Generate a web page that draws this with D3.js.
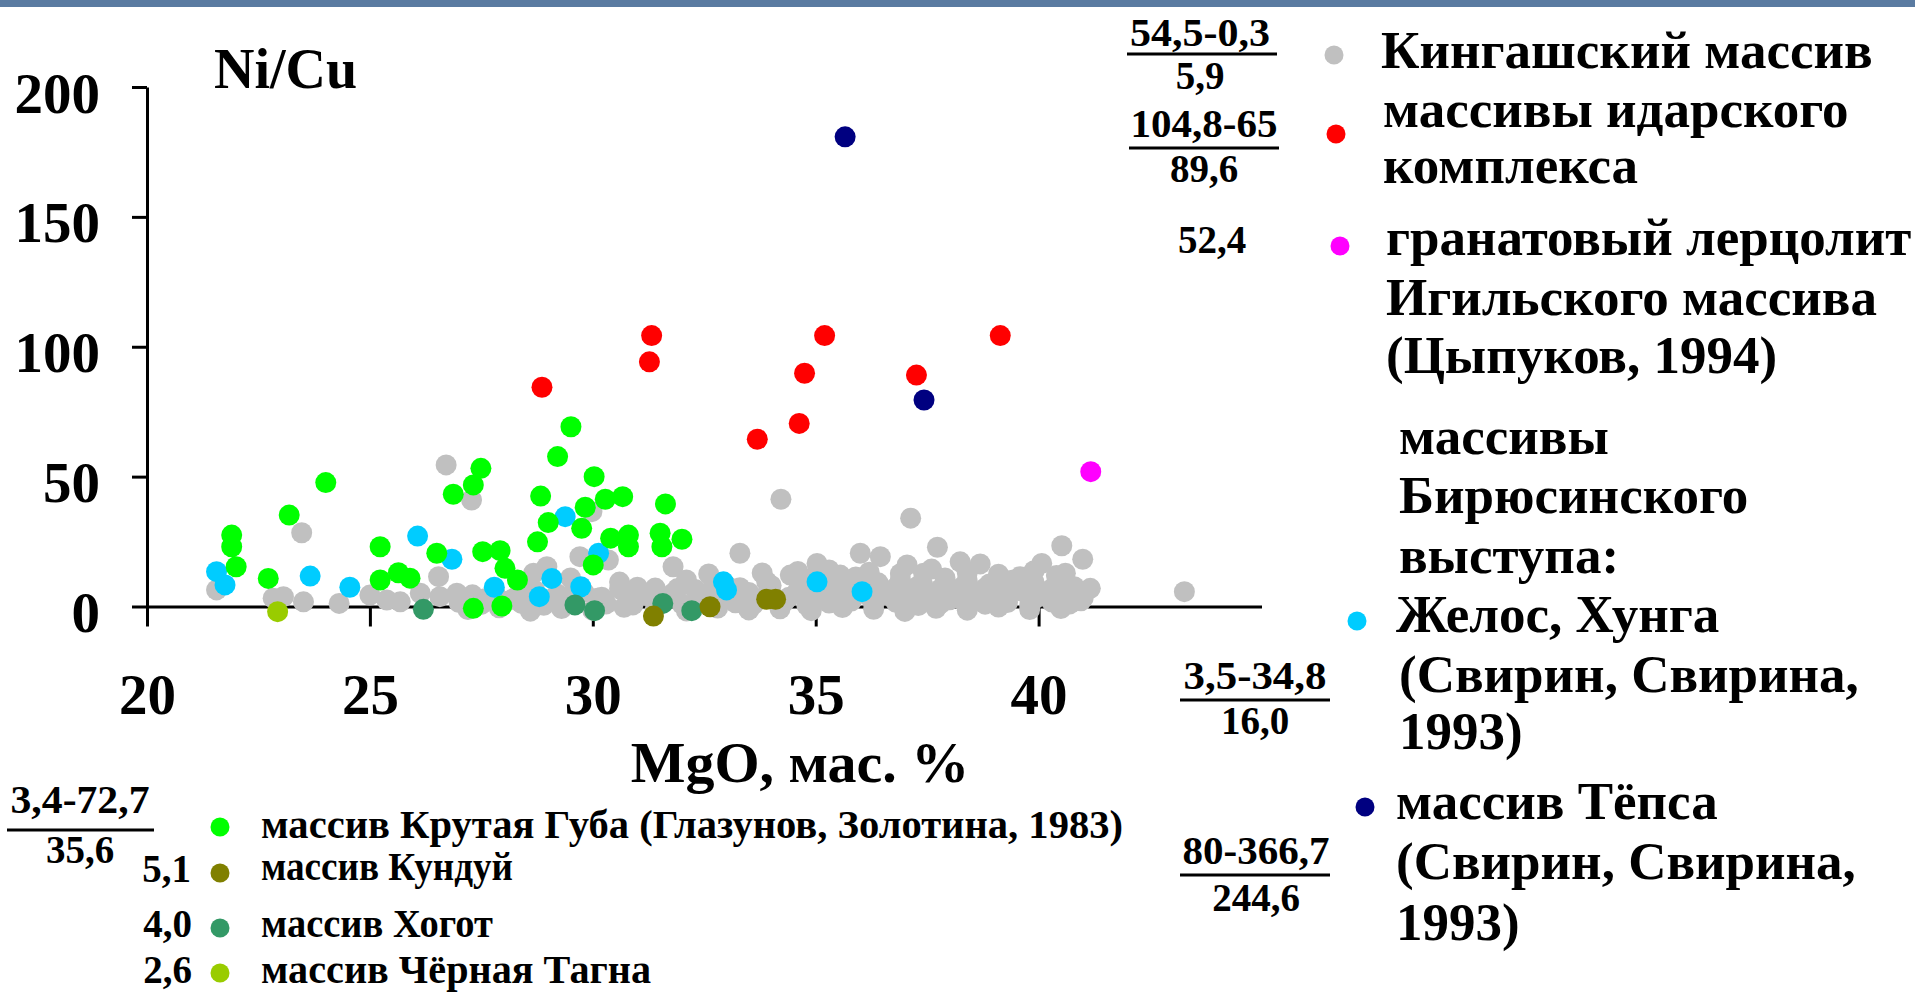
<!DOCTYPE html>
<html><head><meta charset="utf-8">
<script src="https://cdn.jsdelivr.net/npm/d3@7"></script>
<style>
html,body{margin:0;padding:0;background:#fff;overflow:hidden}
svg{display:block}
text{font-family:"Liberation Serif","Times New Roman",serif;font-weight:bold;fill:#000}
</style></head>
<body>
<svg id="chart" width="1915" height="993"></svg>
<script>
// ---- data ----
const xTicks = [20, 25, 30, 35, 40];
const yTicks = [0, 50, 100, 150, 200];
const xDomain = [20, 45];
const yDomain = [0, 200];

// Кингашский массив (gray)
const kingash = [
  [21.56,6.4],[23.47,28.4],[26.71,54.5],[27.28,41.0],[29.98,36.5],[29.71,19.2],[30.35,17.9],[33.3,20.5],
  [34.22,41.3],[37.13,34.0],[37.73,22.8],[38.24,17.2],[38.69,16.4],[36.0,20.5],[36.45,19.2],[35.03,16.6],
  [34.43,12.1],[35.55,12.1],[37.05,16.0],[37.42,12.8],[39.59,11.5],[40.07,16.6],[40.52,23.4],[40.99,18.2],
  [41.16,7.0],[43.27,5.7],[26.54,11.5],[22.83,3.2],[23.06,3.8],[23.51,1.8],[24.31,1.2],[25.0,4.4],
  [25.38,2.5],[25.68,1.8],[26.13,5.1],[26.57,3.8],[26.95,5.1],[28.67,12.8],[28.97,15.3],[31.8,15.3],
  [29.5,11.0],[32.6,12.5],
  [27.0,1.5],[27.5,0.8],[28.0,2.0],[28.4,1.2],[28.9,0.5],[29.4,2.2],[30.3,1.0],[30.9,0.6],[31.5,1.8],
  [32.0,0.9],[32.6,2.5],[33.2,1.4],[33.6,0.7],[34.3,1.9],[34.8,0.5],[35.3,1.3],[35.8,2.1],[36.3,0.8],
  [36.8,1.6],[37.3,0.4],[37.8,1.1],[38.3,2.3],[38.8,0.9],[39.3,1.5],[39.8,0.6],[40.3,1.7],[40.7,1.0],
  [27.3,4.5],[27.8,5.8],[28.3,3.9],[28.7,6.2],[29.2,4.8],[29.8,5.5],[30.2,3.6],[30.6,6.8],[31.2,4.2],
  [31.8,5.1],[32.3,6.5],[32.9,3.8],[33.5,5.4],[34.0,4.6],[34.6,6.1],[35.1,5.0],[35.6,3.7],[36.1,6.6],
  [36.6,4.4],[37.1,5.7],[37.6,4.9],[38.1,6.3],[38.6,3.5],[39.1,5.2],[39.6,6.0],[40.1,4.1],[40.6,5.5],
  [41.0,3.3],
  [28.5,8.2],[29.6,7.5],[30.6,9.4],[31.4,7.1],[32.1,10.2],[33.0,8.0],[33.9,9.6],[34.9,10.8],[35.4,8.5],
  [35.9,11.4],[36.4,9.1],[36.9,10.5],[37.4,8.3],[37.9,11.0],[38.4,9.8],[38.9,8.7],[39.4,10.1],[39.9,9.3],
  [40.4,11.9],[40.8,7.6],
  [27.2,-1.2],[27.9,-0.5],[28.6,-1.8],[29.3,-0.8],[30.0,-1.5],[30.7,-0.3],[31.4,-1.0],[32.1,-1.7],
  [32.8,-0.6],[33.5,-1.3],[34.2,-0.9],[34.9,-1.6],[35.6,-0.4],[36.3,-1.1],[37.0,-1.9],[37.7,-0.7],
  [38.4,-1.4],[39.1,-0.2],[39.8,-1.2],[40.5,-0.8],
  [27.6,3.1],[28.2,2.8],[28.8,3.5],[29.5,2.6],[30.1,3.2],[30.8,2.9],[31.6,3.4],[32.4,3.0],[33.1,2.7],
  [33.8,3.3],[34.4,3.6],[35.0,2.5],[35.7,3.1],[36.2,3.8],[36.9,2.9],[37.5,3.3],[38.0,2.6],[38.7,3.5],
  [39.3,3.0],[39.9,2.8],[40.5,3.4],[40.95,2.2],
  [31.0,7.4],[31.9,6.9],[32.7,7.8],[33.3,7.2],[34.0,8.1],[34.7,7.5],[35.2,7.0],[35.7,8.4],[36.2,7.6],
  [36.8,7.3],[37.3,7.9],[37.8,6.8],[38.3,7.7],[38.8,7.1],[39.3,8.2],[39.8,7.4],[40.3,6.9],[40.7,8.0],
  [33.8,12.9],[34.6,13.5],[35.3,14.1],[36.2,13.2],[36.9,12.6],[37.6,14.4],[38.4,13.0],[39.1,12.4],
  [39.9,13.8],[40.6,12.8]
];
// массивы идарского комплекса (red)
const idar = [[28.86,84.4],[31.32,104.3],[31.27,94.2],[33.69,64.4],[34.63,70.5],[34.75,89.8],[35.2,104.3],[37.26,89.1],[39.14,104.3]];
// гранатовый лерцолит Игильского массива (magenta)
const igil = [[41.17,51.9]];
// Желос, Хунга (cyan)
const zhelos = [[21.56,13.4],[21.75,8.3],[23.66,11.7],[24.55,7.4],[26.07,27.1],[26.84,18.2],[29.38,34.6],[30.13,20.5],
  [29.08,10.8],[27.79,7.4],[28.8,3.8],[29.73,7.6],[32.93,9.5],[33.0,6.4],[35.03,9.5],[36.04,5.7]];
// массив Тёпса (navy)
const tepsa = [[35.66,180.8],[37.43,79.5]];
// массив Крутая Губа (green)
const krutaya = [[24.01,47.7],[23.19,35.2],[21.9,27.5],[21.9,23.0],[22.0,15.3],[22.72,10.8],[25.23,23.0],[26.5,20.5],
  [25.23,10.2],[25.64,13.0],[25.9,10.9],[26.87,43.2],[29.51,69.2],[29.21,57.7],[30.03,50.0],[27.49,53.2],
  [27.32,46.8],[28.83,42.5],[29.83,38.2],[30.28,41.3],[30.67,42.3],[31.63,39.5],[29.0,32.3],[28.76,24.9],
  [29.75,30.1],[30.4,26.3],[30.8,27.5],[30.8,23.0],[31.51,28.2],[31.55,23.0],[32.0,25.9],[30.01,16.0],
  [27.53,21.1],[27.92,21.5],[28.03,14.7],[28.31,10.2],[27.32,-0.7],[27.96,0.2]];
// массив Кундуй (olive)
const kunduy = [[31.36,-3.7],[32.63,-0.1],[33.9,2.8],[34.1,2.8]];
// массив Хогот (sea green)
const khogot = [[26.2,-1.1],[29.6,0.6],[30.04,-1.6],[31.57,1.2],[32.22,-1.6]];
// массив Чёрная Тагна (yellow green)
const tagna = [[22.93,-2.0]];

// ---- drawing ----
const svg = d3.select("#chart");
svg.append("rect").attr("x",0).attr("y",0).attr("width",1915).attr("height",7).attr("fill","#5a7ba1");

const x = d3.scaleLinear().domain(xDomain).range([147, 1261.5]);
const y = d3.scaleLinear().domain(yDomain).range([606.5, 87]);

const series = [
  {data: kingash, color:"#c0c0c0"},
  {data: zhelos, color:"#00ccff"},
  {data: krutaya, color:"#00ff00"},
  {data: khogot, color:"#339966"},
  {data: kunduy, color:"#808000"},
  {data: tagna, color:"#99cc00"},
  {data: idar, color:"#ff0000"},
  {data: tepsa, color:"#000080"},
  {data: igil, color:"#ff00ff"}
];

// axes
const gy = svg.append("g").attr("transform","translate(147,0)")
  .call(d3.axisLeft(y).tickValues(yTicks).tickSize(15).tickSizeOuter(0).tickPadding(32));
const gx = svg.append("g").attr("transform","translate(0,606.5)")
  .call(d3.axisBottom(x).tickValues(xTicks).tickSize(20).tickSizeOuter(0));
[gx, gy].forEach(g => {
  g.select(".domain").attr("stroke","#000").attr("stroke-width",3);
  g.selectAll(".tick line").attr("stroke","#000").attr("stroke-width",3);
  g.selectAll("text").attr("font-size",57).attr("font-family",'"Liberation Serif","Times New Roman",serif')
    .attr("font-weight","bold").attr("fill","#000");
});
gy.selectAll(".tick text").attr("dy",null).attr("y",25);
gx.selectAll(".tick text").attr("dy",null).attr("y",107.5);

// points
const pts = svg.append("g");
series.forEach(s => {
  pts.append("g").selectAll("circle").data(s.data).join("circle")
    .attr("cx", d => x(d[0])).attr("cy", d => y(d[1])).attr("r", 10.5).attr("fill", s.color);
});

// titles
svg.append("text").attr("x",214).attr("y",88).attr("font-size",56).text("Ni/Cu");
svg.append("text").attr("x",800).attr("y",782).attr("font-size",58).attr("text-anchor","middle").text("MgO, мас. %");

// right legend
const rightLines = [
  [1381,68,"Кингашский массив"],[1383,127,"массивы идарского"],[1383,183,"комплекса"],
  [1386,255,"гранатовый лерцолит"],[1386,315,"Игильского массива"],[1386,373,"(Цыпуков, 1994)"],
  [1399,454,"массивы"],[1399,513,"Бирюсинского"],[1399,573,"выступа:"],
  [1396,632,"Желос, Хунга"],[1399,692,"(Свирин, Свирина,"],[1399,749,"1993)"],
  [1396,819,"массив Тёпса"],[1396,879,"(Свирин, Свирина,"],[1396,940,"1993)"]
];
svg.append("g").selectAll("text").data(rightLines).join("text")
  .attr("x",d=>d[0]).attr("y",d=>d[1]).attr("font-size",53).text(d=>d[2]);

const legendDots = [
  [1334,55,"#c0c0c0"],[1336,134,"#ff0000"],[1340,246,"#ff00ff"],[1357,621,"#00ccff"],[1365,807,"#000080"],
  [220,827,"#00ff00"],[220,873,"#808000"],[220,928,"#339966"],[220,973,"#99cc00"]
];
svg.append("g").selectAll("circle").data(legendDots).join("circle")
  .attr("cx",d=>d[0]).attr("cy",d=>d[1]).attr("r",9.5).attr("fill",d=>d[2]);

// fractions: [cx, numerator, nb, lineY, lx1, lx2, denominator, db, numWidth]
const fractions = [
  [1200,"54,5-0,3",46,54,1127,1277,"5,9",89,140],
  [1204,"104,8-65",137,148,1129,1279,"89,6",182,147],
  [1255,"3,5-34,8",689,700,1180,1330,"16,0",734,143],
  [1256,"80-366,7",864,875,1180,1330,"244,6",911,147],
  [80,"3,4-72,7",813,830,7,154,"35,6",863,139]
];
const fg = svg.append("g");
fractions.forEach(f => {
  fg.append("text").attr("x",f[0]).attr("y",f[2]).attr("font-size",39).attr("text-anchor","middle")
    .attr("textLength",f[8]).attr("lengthAdjust","spacingAndGlyphs").text(f[1]);
  fg.append("line").attr("x1",f[4]).attr("x2",f[5]).attr("y1",f[3]).attr("y2",f[3]).attr("stroke","#000").attr("stroke-width",3);
  fg.append("text").attr("x",f[0]).attr("y",f[7]).attr("font-size",39).attr("text-anchor","middle").text(f[6]);
});
const singles = [[1212,253,"52,4","middle"],[191,882,"5,1","end"],[192,937,"4,0","end"],[192,983,"2,6","end"]];
fg.selectAll("text.single").data(singles).join("text").attr("class","single")
  .attr("x",d=>d[0]).attr("y",d=>d[1]).attr("font-size",39).attr("text-anchor",d=>d[3]).text(d=>d[2]);

// bottom legend
const bottomLines = [
  [261,838,"массив Крутая Губа (Глазунов, Золотина, 1983)",862],
  [261,880,"массив Кундуй",252],
  [261,937,"массив Хогот",232],
  [261,983,"массив Чёрная Тагна",390]
];
svg.append("g").selectAll("text").data(bottomLines).join("text")
  .attr("x",d=>d[0]).attr("y",d=>d[1]).attr("font-size",40)
  .attr("textLength",d=>d[3]).attr("lengthAdjust","spacingAndGlyphs").text(d=>d[2]);
</script>
</body></html>
